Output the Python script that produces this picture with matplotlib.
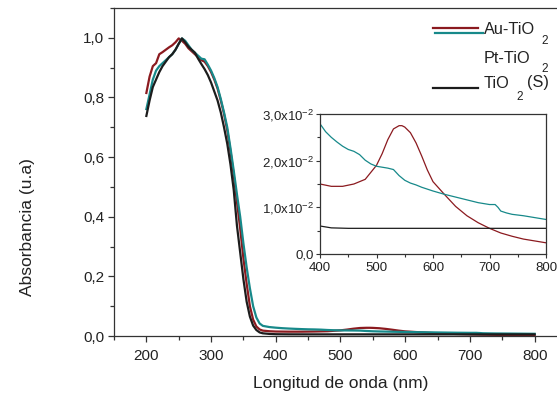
import matplotlib
matplotlib.use("Agg")
import matplotlib.pyplot as plt
from matplotlib.ticker import MultipleLocator
from matplotlib.lines import Line2D

plt.rcParams['font.family'] = ['Liberation Sans', 'DejaVu Sans']
plt.rcParams['mathtext.fontset'] = 'custom'
plt.rcParams['mathtext.rm'] = 'Liberation Sans'

# ---------------- data ----------------
au_wl = [200, 205, 210, 215, 220, 225, 230, 235, 240, 245, 250, 255, 260, 265, 270, 275,
         280, 285, 290, 295, 300, 305, 310, 315, 320, 325, 330, 335, 340, 345, 350, 355,
         360, 365, 370, 375, 380, 390, 400, 420, 440, 460, 480, 500, 510, 520, 530, 540,
         545, 550, 560, 570, 580, 590, 600, 620, 640, 660, 680, 700, 720, 740, 760, 780, 800]
au_abs = [0.815, 0.87, 0.905, 0.915, 0.945, 0.952, 0.96, 0.968, 0.975, 0.985, 0.998, 0.99,
          0.98, 0.965, 0.955, 0.945, 0.935, 0.925, 0.92, 0.905, 0.885, 0.86, 0.83, 0.79,
          0.745, 0.69, 0.62, 0.54, 0.45, 0.36, 0.26, 0.175, 0.10, 0.055, 0.032, 0.022,
          0.018, 0.016, 0.015, 0.0145, 0.0145, 0.015, 0.016, 0.019, 0.0215, 0.0245,
          0.0268, 0.0275, 0.0275, 0.0272, 0.026, 0.0238, 0.021, 0.018, 0.0155, 0.0128,
          0.0102, 0.0082, 0.0067, 0.0055, 0.0045, 0.0038, 0.0032, 0.0028, 0.0024]

pt_wl = [200, 205, 210, 215, 220, 225, 230, 235, 240, 245, 250, 255, 260, 265, 270, 275,
         280, 285, 290, 295, 300, 305, 310, 315, 320, 325, 330, 335, 340, 345, 350, 355,
         360, 365, 370, 375, 380, 390, 400, 410, 420, 430, 440, 450, 460, 470, 480, 490,
         500, 510, 520, 530, 540, 550, 560, 570, 580, 590, 600, 620, 640, 660, 680, 700,
         710, 715, 720, 730, 740, 760, 780, 800]
pt_abs = [0.761, 0.81, 0.86, 0.89, 0.905, 0.915, 0.925, 0.935, 0.945, 0.96, 0.98, 0.998,
          0.99, 0.975, 0.96, 0.95, 0.94, 0.93, 0.928, 0.91, 0.89, 0.865, 0.835, 0.795,
          0.75, 0.70, 0.63, 0.555, 0.475, 0.40, 0.31, 0.23, 0.16, 0.10, 0.062, 0.042,
          0.034, 0.030, 0.0279, 0.0262, 0.0250, 0.0240, 0.0231, 0.0224, 0.0220, 0.0213,
          0.0201, 0.0193, 0.0188, 0.0186, 0.0184, 0.0181, 0.0168, 0.0158, 0.0152, 0.0148,
          0.0143, 0.0139, 0.0135, 0.0128, 0.0122, 0.0116, 0.0110, 0.0106, 0.0106, 0.0100,
          0.0092, 0.0088, 0.0085, 0.0082, 0.0078, 0.0074]

ti_wl = [200, 205, 210, 215, 220, 225, 230, 235, 240, 245, 250, 255, 260, 265, 270, 275,
         280, 285, 290, 295, 300, 305, 310, 315, 320, 325, 330, 335, 340, 345, 350, 355,
         360, 365, 370, 375, 380, 390, 400, 420, 450, 500, 600, 700, 800]
ti_abs = [0.738, 0.79, 0.835, 0.86, 0.885, 0.905, 0.92, 0.935, 0.945, 0.96, 0.98, 0.998,
          0.985, 0.97, 0.96, 0.95, 0.93, 0.912, 0.895, 0.875, 0.85, 0.82, 0.79, 0.75,
          0.70, 0.645, 0.575, 0.49, 0.37, 0.28, 0.19, 0.115, 0.065, 0.035, 0.02, 0.012,
          0.009, 0.007, 0.006, 0.0056, 0.0055, 0.0055, 0.0055, 0.0055, 0.0055]

main_yticks = [0.0, 0.2, 0.4, 0.6, 0.8, 1.0]
main_ylabels = ['0,0', '0,2', '0,4', '0,6', '0,8', '1,0']
main_xticks = [200, 300, 400, 500, 600, 700, 800]
inset_xticks = [400, 500, 600, 700, 800]
inset_yticks = [0.0, 0.01, 0.02, 0.03]
inset_ylabels = ['0,0', r'1,0x10$^{\mathregular{-2}}$', r'2,0x10$^{\mathregular{-2}}$',
                 r'3,0x10$^{\mathregular{-2}}$']

c_au = '#8b1a1f'
c_pt = '#17898a'
c_ti = '#1c1c1c'
txt = '#222222'
spc = '#333333'

W, H = 557, 395
fig = plt.figure(figsize=(W / 100, H / 100), dpi=100)
ax = fig.add_axes([114 / W, (H - 336) / H, (567 - 114) / W, (336 - 8) / H])

ax.plot(au_wl, au_abs, color=c_au, lw=1.6)
ax.plot(pt_wl, pt_abs, color=c_pt, lw=1.6)
ax.plot(ti_wl, ti_abs, color=c_ti, lw=1.6)
ax.set_xlim(150, 850)
ax.set_ylim(0, 1.1)
ax.set_xticks(main_xticks)
ax.xaxis.set_minor_locator(MultipleLocator(50))
ax.set_yticks(main_yticks)
ax.set_yticklabels(main_ylabels)
ax.yaxis.set_minor_locator(MultipleLocator(0.1))
ax.tick_params(which='both', direction='out', colors=spc, labelcolor=txt, labelsize=11)
ax.tick_params(which='major', length=4, width=0.9)
ax.tick_params(which='minor', length=3, width=0.9)
ax.tick_params(axis='y', pad=3)
ax.tick_params(axis='x', pad=5)
for s in ax.spines.values():
    s.set_color(spc)
    s.set_linewidth(0.9)
ax.set_xlabel('Longitud de onda (nm)', fontsize=12.5, color=txt)
ax.set_ylabel('Absorbancia (u.a)', fontsize=12.5, color=txt)
ax.xaxis.set_label_coords(0.5, -0.122)
ax.yaxis.set_label_coords(-0.175, 0.332)

# legend (drawn manually to mimic the original layout)
def fx(px):
    return px / W

def fy(py):
    return 1 - py / H

fig.add_artist(Line2D([fx(433), fx(478)], [fy(27.5), fy(27.5)], color=c_au, lw=1.6))
fig.add_artist(Line2D([fx(435), fx(483)], [fy(33), fy(33)], color=c_pt, lw=1.6))
fig.add_artist(Line2D([fx(433), fx(478)], [fy(88), fy(88)], color=c_ti, lw=1.6))
lfs = 11.7
sfs = 8.5
fig.text(fx(484), fy(29.5), 'Au-TiO', fontsize=lfs, color=txt, va='center', ha='left')
fig.text(fx(541), fy(41), '2', fontsize=sfs, color=txt, va='center', ha='left')
fig.text(fx(484), fy(58.5), 'Pt-TiO', fontsize=lfs, color=txt, va='center', ha='left')
fig.text(fx(541), fy(69), '2', fontsize=sfs, color=txt, va='center', ha='left')
fig.text(fx(484), fy(83), 'TiO', fontsize=lfs, color=txt, va='center', ha='left')
fig.text(fx(516.5), fy(97), '2', fontsize=sfs, color=txt, va='center', ha='left')
fig.text(fx(527), fy(83), '(S)', fontsize=lfs, color=txt, va='center', ha='left')

# inset
ins = fig.add_axes([320 / W, (H - 254) / H, 226 / W, 140 / H])
ins.plot(au_wl, au_abs, color=c_au, lw=0.9)
ins.plot(pt_wl, pt_abs, color=c_pt, lw=0.9)
ins.plot(ti_wl, ti_abs, color=c_ti, lw=0.9)
ins.set_xlim(400, 800)
ins.set_ylim(0, 0.03)
ins.set_xticks(inset_xticks)
ins.xaxis.set_minor_locator(MultipleLocator(50))
ins.set_yticks(inset_yticks)
ins.set_yticklabels(inset_ylabels)
ins.yaxis.set_minor_locator(MultipleLocator(0.005))
ins.tick_params(which='both', direction='out', colors=spc, labelcolor=txt, labelsize=9.5)
ins.tick_params(which='major', length=3, width=0.8)
ins.tick_params(which='minor', length=2, width=0.8)
ins.tick_params(axis='y', pad=1.5)
ins.tick_params(axis='x', pad=2.5)
for s in ins.spines.values():
    s.set_color(spc)
    s.set_linewidth(0.9)

fig.savefig('out.png', dpi=100)
